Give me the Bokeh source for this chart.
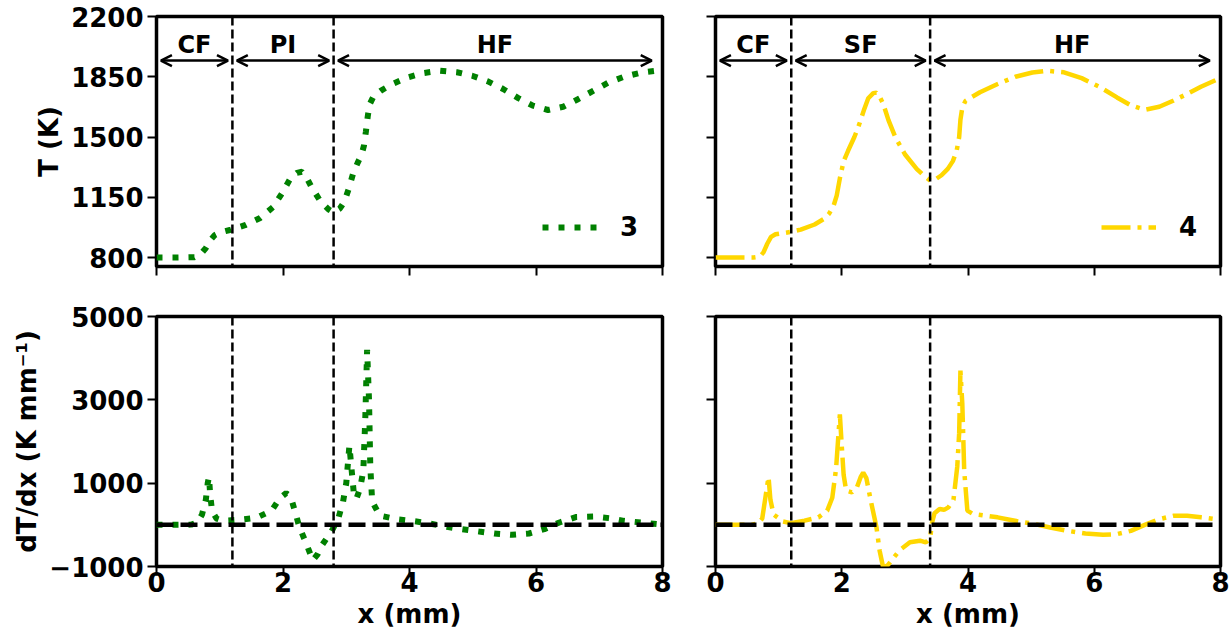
from bokeh.plotting import figure
from bokeh.layouts import gridplot
from bokeh.models import (Range1d, FixedTicker, Span, Arrow, OpenHead, Label,
                          Legend, LegendItem)
from bokeh.embed import file_html
from bokeh.resources import INLINE

# ---------------- data ----------------
x_ticks = [0, 2, 4, 6, 8]
T_ticks = [800, 1150, 1500, 1850, 2200]
G_ticks = [-1000, 1000, 3000, 5000]

# case 3 (green, dotted)
x3_T = [0.0, 0.3, 0.6, 0.7, 0.78, 0.85, 0.92, 1.0, 1.16, 1.4, 1.64, 1.84, 1.98,
        2.12, 2.22, 2.30, 2.38, 2.45, 2.60, 2.72, 2.80, 2.90, 2.97, 3.04, 3.11,
        3.18, 3.24, 3.28, 3.31, 3.34, 3.37, 3.43, 3.55, 3.73, 3.97, 4.21, 4.48,
        4.75, 4.99, 5.24, 5.48, 5.72, 5.95, 6.19, 6.43, 6.67, 6.91, 7.15, 7.39,
        7.67, 8.0]
T3 = [800, 800, 802, 820, 855, 900, 930, 945, 960, 988, 1030, 1092, 1170,
      1262, 1292, 1298, 1260, 1210, 1122, 1080, 1062, 1085, 1125, 1200, 1290,
      1350, 1395, 1450, 1530, 1620, 1690, 1735, 1770, 1808, 1846, 1871, 1885,
      1876, 1856, 1823, 1779, 1726, 1682, 1657, 1676, 1721, 1769, 1817, 1850,
      1875, 1890]

x3_G = [0.0, 0.3, 0.55, 0.65, 0.72, 0.78, 0.81, 0.83, 0.85, 0.88, 0.95, 1.05,
        1.30, 1.58, 1.82, 1.95, 2.05, 2.12, 2.19, 2.26, 2.36, 2.47, 2.55, 2.62,
        2.77, 2.88, 2.95, 3.00, 3.05, 3.08, 3.12, 3.16, 3.22, 3.27, 3.30, 3.33,
        3.36, 3.38, 3.41, 3.53, 3.80, 4.04, 4.32, 4.59, 4.83, 5.10, 5.34, 5.62,
        5.89, 6.13, 6.37, 6.64, 6.92, 7.16, 7.39, 7.66, 7.94]
G3 = [0, 0, 5, 60, 250, 600, 1000, 1150, 700, 320, 150, 100,
      120, 170, 340, 640, 760, 680, 320, -60, -420, -850, -700, -480,
      -150, 180, 560, 1000, 1900, 1400, 750, 620, 880, 1300, 2500, 4200,
      3000, 1400, 560, 220, 135, 95, 32, -48, -104, -160, -208, -240,
      -208, -104, 56, 190, 200, 160, 96, 56, 16]

# case 4 (gold, dash-dot)
x4_T = [0.0, 0.3, 0.6, 0.70, 0.76, 0.82, 0.88, 0.95, 1.07, 1.18, 1.35, 1.57,
        1.72, 1.80, 1.87, 1.92, 1.97, 2.03, 2.10, 2.20, 2.27, 2.35, 2.42, 2.50,
        2.55, 2.60, 2.66, 2.74, 2.85, 3.00, 3.19, 3.32, 3.41, 3.50, 3.58, 3.68,
        3.76, 3.82, 3.86, 3.88, 3.91, 3.96, 4.05, 4.19, 4.47, 4.75, 5.02, 5.25,
        5.52, 5.80, 6.08, 6.36, 6.58, 6.80, 7.03, 7.25, 7.47, 7.69, 7.92]
T4 = [800, 800, 800, 805, 830, 880, 920, 935, 942, 948, 962, 992,
      1025, 1055, 1100, 1160, 1260, 1360, 1420, 1500, 1566, 1655, 1725, 1755,
      1758, 1735, 1690, 1598, 1498, 1400, 1314, 1270, 1245, 1258, 1278, 1315,
      1360, 1420, 1500, 1600, 1672, 1710, 1730, 1760, 1808, 1850, 1875, 1885,
      1876, 1842, 1792, 1730, 1684, 1658, 1676, 1711, 1750, 1792, 1830]

x4_G = [0.0, 0.57, 0.68, 0.74, 0.79, 0.84, 0.87, 0.92, 1.07, 1.19, 1.41, 1.63,
        1.77, 1.85, 1.91, 1.97, 2.00, 2.03, 2.07, 2.16, 2.24, 2.30, 2.34, 2.39,
        2.46, 2.55, 2.60, 2.66, 2.74, 2.91, 3.08, 3.24, 3.33, 3.40, 3.43, 3.47,
        3.55, 3.62, 3.69, 3.77, 3.83, 3.86, 3.88, 3.91, 3.94, 3.99, 4.08, 4.47,
        4.80, 5.02, 5.30, 5.58, 5.86, 6.14, 6.36, 6.58, 6.80, 7.03, 7.25, 7.47,
        7.69, 7.90]
G4 = [0, 0, 40, 150, 650, 1150, 600, 250, 80, 40, 100, 180,
      340, 650, 1350, 2650, 1900, 1200, 820, 780, 900, 1150, 1250, 1120,
      580, -60, -620, -1050, -950, -620, -420, -380, -420, -320, 50, 280,
      380, 360, 420, 600, 1400, 2200, 3700, 2900, 1300, 340, 260, 180,
      80, 30, -64, -144, -208, -240, -224, -144, 0, 136, 216, 220,
      180, 140]

# zone boundaries and names
zones3 = [0.0, 1.2, 2.8, 7.9]
names3 = ["CF", "PI", "HF"]
zones4 = [0.0, 1.2, 3.4, 7.9]
names4 = ["CF", "SF", "HF"]

FONT = "DejaVu Sans"


def style_axis(ax, show_labels, standoff):
    ax.axis_line_color = None
    ax.major_tick_line_width = 2
    ax.major_tick_line_color = "black"
    ax.major_tick_out = 9
    ax.major_tick_in = 0
    ax.minor_tick_line_color = None
    ax.major_label_text_font = FONT
    ax.major_label_text_font_style = "bold"
    ax.major_label_standoff = standoff
    if show_labels:
        ax.major_label_text_font_size = "26px"
        ax.major_label_text_color = "black"
    else:
        ax.major_label_text_font_size = "0px"
        ax.major_label_text_color = None
        ax.major_label_text_alpha = 0
    ax.axis_label_text_font = FONT
    ax.axis_label_text_font_style = "bold"
    ax.axis_label_text_font_size = "26px"
    ax.axis_label_text_color = "black"
    ax.axis_label_standoff = 4


def make_fig(width, height, bl, br, bt, bb, yr, yticks, show_x, show_y):
    p = figure(width=width, height=height, x_range=Range1d(0, 8),
               y_range=Range1d(*yr), output_backend="svg",
               toolbar_location=None, min_border_left=bl, min_border_right=br,
               min_border_top=bt, min_border_bottom=bb)
    p.grid.visible = False
    p.outline_line_color = "black"
    p.outline_line_width = 3.5
    p.outline_line_alpha = 1.0
    p.background_fill_color = "white"
    p.border_fill_color = "white"
    p.xaxis.ticker = FixedTicker(ticks=x_ticks)
    p.yaxis.ticker = FixedTicker(ticks=yticks)
    style_axis(p.xaxis[0], show_x, -4)
    style_axis(p.yaxis[0], show_y, 4)
    return p


def add_zones(p, zones):
    for b in zones[1:-1]:
        p.add_layout(Span(location=b, dimension="height", line_color="black",
                          line_width=2.5, line_dash="9 4"))


def add_arrows(p, zones, names):
    inset = 0.07
    for i, name in enumerate(names):
        a, b = zones[i], zones[i + 1]
        p.add_layout(Arrow(start=OpenHead(size=11, line_width=2.5),
                           end=OpenHead(size=11, line_width=2.5),
                           x_start=a + inset, y_start=1944,
                           x_end=b - inset, y_end=1944,
                           line_width=2.5, line_color="black"))
        p.add_layout(Label(x=(a + b) / 2, y=2032, text=name,
                           text_align="center", text_baseline="middle",
                           text_font=FONT, text_font_style="bold",
                           text_font_size="24px", text_color="black"))


def add_legend(p, r, label):
    leg = Legend(items=[LegendItem(label=label, renderers=[r])],
                 location=(386, 24), border_line_color=None,
                 background_fill_alpha=0, padding=0, margin=0, spacing=0,
                 glyph_width=55, glyph_height=30, label_height=30,
                 label_standoff=23, label_text_font=FONT,
                 label_text_font_style="bold", label_text_font_size="26px",
                 label_text_color="black")
    p.add_layout(leg)


# ---- top-left ----
p1 = make_fig(688, 290, 156, 26, 16, 24, (748, 2200), T_ticks, False, True)
p1.yaxis.axis_label = "T (K)"
add_zones(p1, zones3)
add_arrows(p1, zones3, names3)
r1 = p1.line(x3_T, T3, line_color="green", line_width=6, line_dash="6 10",
             line_cap="butt")
add_legend(p1, r1, "3")

# ---- top-right ----
p2 = make_fig(544, 290, 27, 12, 16, 24, (748, 2200), T_ticks, False, False)
add_zones(p2, zones4)
add_arrows(p2, zones4, names4)
r2 = p2.line(x4_T, T4, line_color="gold", line_width=4.5,
             line_dash="29 7 4 7", line_cap="butt")
add_legend(p2, r2, "4")

# ---- bottom-left ----
p3 = make_fig(688, 345, 156, 26, 26, 69, (-1000, 5000), G_ticks, True, True)
p3.yaxis.axis_label = "dT/dx (K mm\u207b\u00b9)"
p3.xaxis.axis_label = "x (mm)"
p3.yaxis.major_label_overrides = {-1000: "\u22121000"}
p3.line(x3_G, G3, line_color="green", line_width=6, line_dash="6 10",
        line_cap="butt")
add_zones(p3, zones3)
p3.add_layout(Span(location=0, dimension="width", line_color="black",
                   line_width=4.5, line_dash="17 7"))

# ---- bottom-right ----
p4 = make_fig(544, 345, 27, 12, 26, 69, (-1000, 5000), G_ticks, True, False)
p4.xaxis.axis_label = "x (mm)"
p4.line(x4_G, G4, line_color="gold", line_width=4.5, line_dash="29 7 4 7",
        line_cap="butt")
add_zones(p4, zones4)
p4.add_layout(Span(location=0, dimension="width", line_color="black",
                   line_width=4.5, line_dash="17 7"))

grid = gridplot([[p1, p2], [p3, p4]], toolbar_location=None)

open("out.html", "w").write(file_html(grid, INLINE))
